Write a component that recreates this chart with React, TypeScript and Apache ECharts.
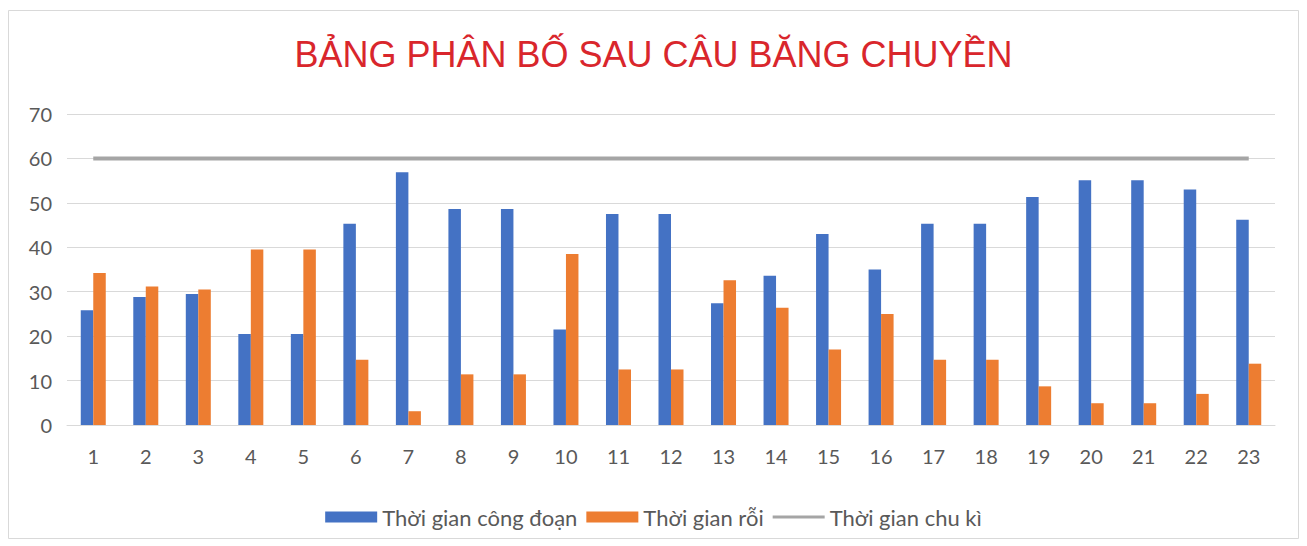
import React, { useEffect, useRef } from "react";
import * as echarts from "echarts";

const categories = ["1","2","3","4","5","6","7","8","9","10","11","12","13","14","15","16","17","18","19","20","21","22","23"];
const processTime = [25.8, 28.8, 29.5, 20.5, 20.5, 45.3, 56.9, 48.6, 48.6, 21.5, 47.5, 47.5, 27.4, 33.6, 43.0, 35.0, 45.3, 45.3, 51.3, 55.1, 55.1, 53.0, 46.2];
const idleTime = [34.2, 31.2, 30.5, 39.5, 39.5, 14.7, 3.1, 11.4, 11.4, 38.5, 12.5, 12.5, 32.6, 26.4, 17.0, 25.0, 14.7, 14.7, 8.7, 4.9, 4.9, 7.0, 13.8];
const cycleTime = categories.map(() => 60);

const TITLE = "BẢNG PHÂN BỐ SAU CÂU BĂNG CHUYỀN";
const SERIES_NAMES = ["Thời gian công đoạn", "Thời gian rỗi", "Thời gian chu kì"];

// thin horizontal bar inside a 52x11 box, used as the legend key of the line series
const LINE_KEY = "path://M0,0M0,4H52V7H0ZM52,11";

export default function App() {
  const ref = useRef<HTMLDivElement>(null);

  useEffect(() => {
    document.body.style.margin = "0";
    if (!ref.current) return;
    const chart = echarts.init(ref.current, undefined, { renderer: "svg" });
    const font = "Lato, 'Open Sans', sans-serif";
    chart.setOption({
      animation: false,
      backgroundColor: "#ffffff",
      textStyle: { fontFamily: font },
      title: {
        text: TITLE,
        left: "center",
        top: 31,
        textStyle: { color: "#d9262c", fontSize: 36, fontWeight: "normal", fontFamily: "'Liberation Sans', Arial, sans-serif" },
      },
      graphic: [
        {
          type: "rect",
          shape: { x: 8.5, y: 10.5, width: 1290, height: 528 },
          style: { fill: "none", stroke: "#d9d9d9", lineWidth: 1 },
          silent: true,
        },
      ],
      legend: {
        top: 501,
        left: "center",
        itemWidth: 52,
        itemHeight: 11,
        itemGap: 9,
        textStyle: { color: "#595959", fontSize: 22, fontFamily: font },
        data: [
          { name: SERIES_NAMES[0], icon: "rect" },
          { name: SERIES_NAMES[1], icon: "rect" },
          { name: SERIES_NAMES[2], icon: LINE_KEY, itemStyle: { color: "#a5a5a5" } },
        ],
      },
      grid: { left: 67, right: 32, top: 114, bottom: 121 },
      xAxis: {
        type: "category",
        data: categories,
        axisLine: { lineStyle: { color: "#d9d9d9" } },
        axisTick: { show: false },
        axisLabel: { color: "#595959", fontSize: 20, margin: 21, fontFamily: font },
      },
      yAxis: {
        type: "value",
        min: 0,
        max: 70,
        interval: 10,
        axisLine: { show: false },
        axisTick: { show: false },
        axisLabel: { color: "#595959", fontSize: 20, margin: 15, fontFamily: font },
        splitLine: { lineStyle: { color: "#d9d9d9", width: 1 } },
      },
      series: [
        {
          name: SERIES_NAMES[0],
          type: "bar",
          data: processTime,
          barWidth: 12.5,
          barGap: "0%",
          itemStyle: { color: "#4472c4" },
        },
        {
          name: SERIES_NAMES[1],
          type: "bar",
          data: idleTime,
          barWidth: 12.5,
          barGap: "0%",
          itemStyle: { color: "#ed7d31" },
        },
        {
          name: SERIES_NAMES[2],
          type: "line",
          data: cycleTime,
          symbol: "none",
          lineStyle: { color: "#a5a5a5", width: 4 },
          itemStyle: { color: "#a5a5a5" },
        },
      ],
    });
    return () => chart.dispose();
  }, []);

  return <div ref={ref} style={{ width: 1307, height: 546 }} />;
}
